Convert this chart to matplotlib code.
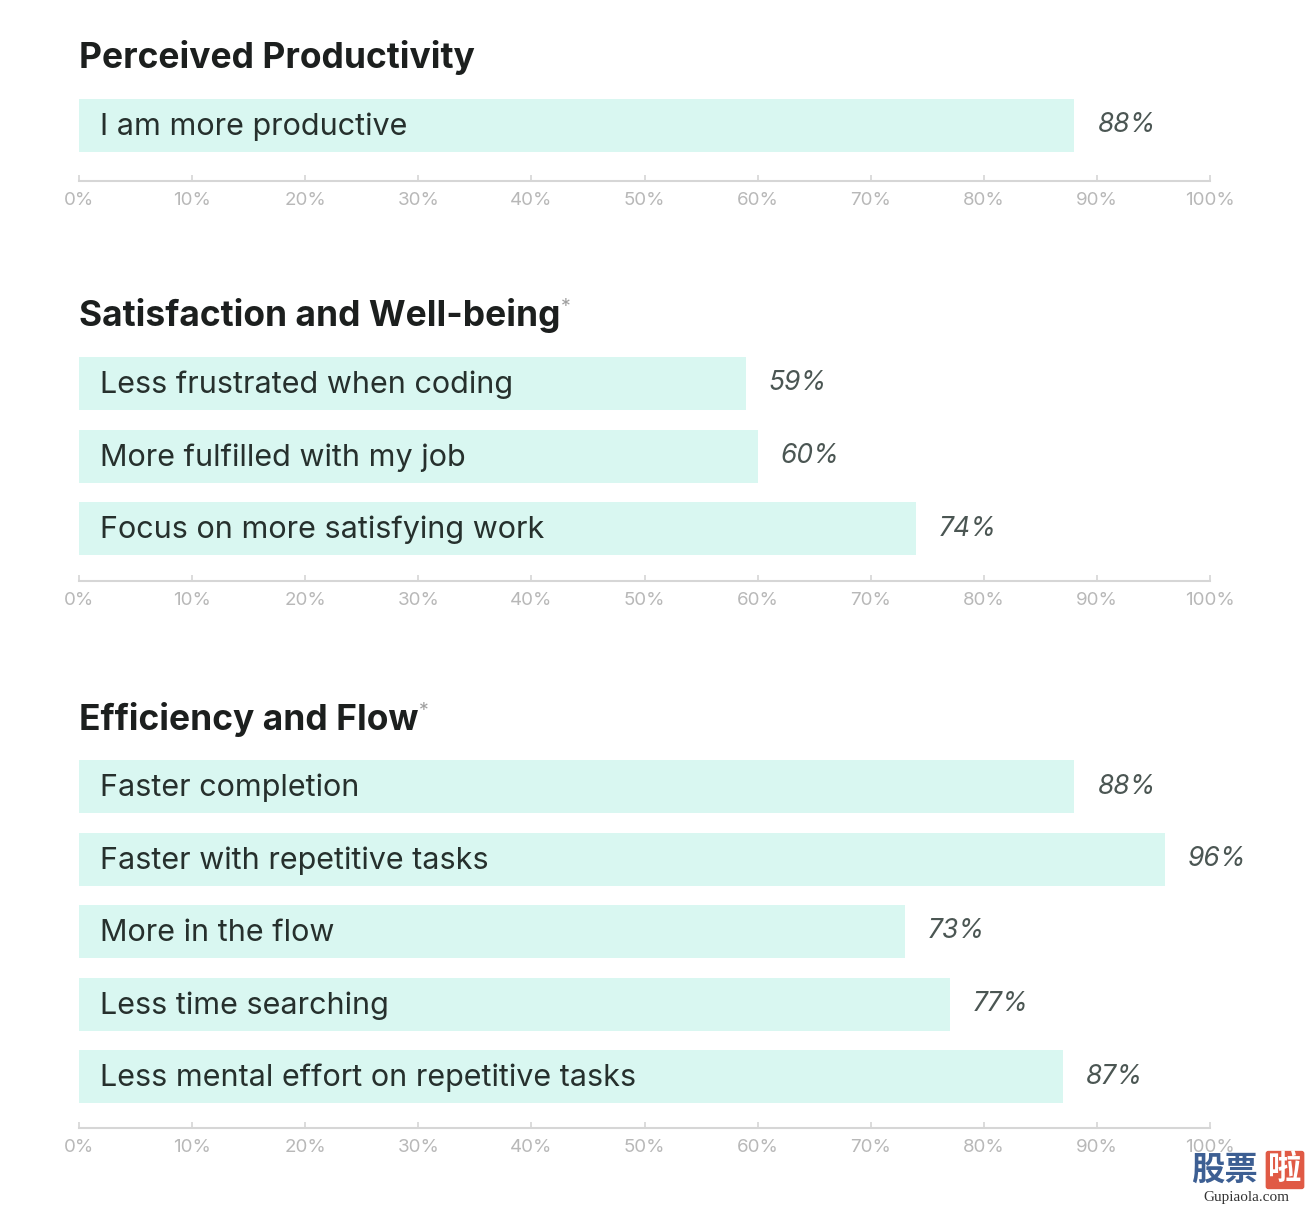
import matplotlib.pyplot as plt

# --- Data ---
titles = ["Perceived Productivity", "Satisfaction and Well-being", "Efficiency and Flow"]
title_star = [False, True, True]

prod_labels = ["I am more productive"]
prod_values = [88]

satis_labels = ["Less frustrated when coding", "More fulfilled with my job",
                "Focus on more satisfying work"]
satis_values = [59, 60, 74]

flow_labels = ["Faster completion", "Faster with repetitive tasks", "More in the flow",
               "Less time searching", "Less mental effort on repetitive tasks"]
flow_values = [88, 96, 73, 77, 87]

ticks = list(range(0, 101, 10))
tick_labels = [f"{t}%" for t in ticks]

# --- Style ---
W, H = 1307, 1209
BAR = "#d9f7f1"
TXT = "#26302d"
VAL = "#4b5653"
GRID = "#d6d6d6"
TICK = "#b8b8b8"
plt.rcParams['font.family'] = ['Inter', 'DejaVu Sans']

fig = plt.figure(figsize=(W / 100, H / 100), dpi=100)
fig.patch.set_facecolor("white")

SLOT = 72.5   # px between bars
BAR_H = 53 / SLOT


def px_axes(left, top, width, height):
    return fig.add_axes([left / W, 1 - (top + height) / H, width / W, height / H])


def panel(top, axis_y, title_base, title, star, labels, values):
    n = len(labels)
    ax = px_axes(79, top, 1131, axis_y - top)
    ax.barh(range(n), values, height=BAR_H, color=BAR, left=0)
    for i, (lab, v) in enumerate(zip(labels, values)):
        ax.text(1.9, i + 0.02, lab, va="center", ha="left", fontsize=22, color=TXT)
        ax.text(v + 2.0, i, f"{v}%", va="center", ha="left", fontsize=19,
                color=VAL, style="italic")
    span = (axis_y - top) / SLOT
    ax.set_ylim(-BAR_H / 2 + span, -BAR_H / 2)
    ax.set_xlim(0, 100)
    ax.set_xticks(ticks)
    ax.set_xticklabels(tick_labels)
    ax.tick_params(axis="x", direction="in", length=4, width=1.2, color=GRID,
                   labelcolor=TICK, labelsize=13.5, pad=8)
    ax.set_yticks([])
    for s in ["top", "right", "left"]:
        ax.spines[s].set_visible(False)
    ax.spines["bottom"].set_color(GRID)
    ax.spines["bottom"].set_linewidth(1.5)
    ax.set_facecolor("none")
    t = fig.text(79 / W, 1 - title_base / H, title, fontsize=25.5, fontweight="bold",
                 color="#1c1f1e", va="baseline", ha="left")
    if star:
        ax.annotate("*", xy=(1, 1), xycoords=t, xytext=(0.5, 0),
                    textcoords="offset points", va="top", ha="left",
                    fontsize=14, color="#a0a0a0", annotation_clip=False)
    return ax


panel(99, 181, 68, titles[0], title_star[0], prod_labels, prod_values)
panel(357, 581, 326, titles[1], title_star[1], satis_labels, satis_values)
panel(760, 1128, 730, titles[2], title_star[2], flow_labels, flow_values)

# watermark
fig.text(1191 / W, 1 - 1170 / H, "股票", fontsize=24, fontweight="bold",
         color="#3d5f93", va="center", ha="left", family=["Noto Sans CJK SC"])
fig.text(1285 / W, 1 - 1170 / H, "啦", fontsize=24, fontweight="bold",
         color="white", va="center", ha="center", family=["Noto Sans CJK SC"],
         bbox=dict(boxstyle="round,pad=0.08", fc="#e05a45", ec="none"))
fig.text(1246 / W, 1 - 1198 / H, "Gupiaola.com", fontsize=11, color="#333333",
         va="center", ha="center", family=["Liberation Serif"])

fig.savefig("out.png", dpi=100, facecolor="white")
